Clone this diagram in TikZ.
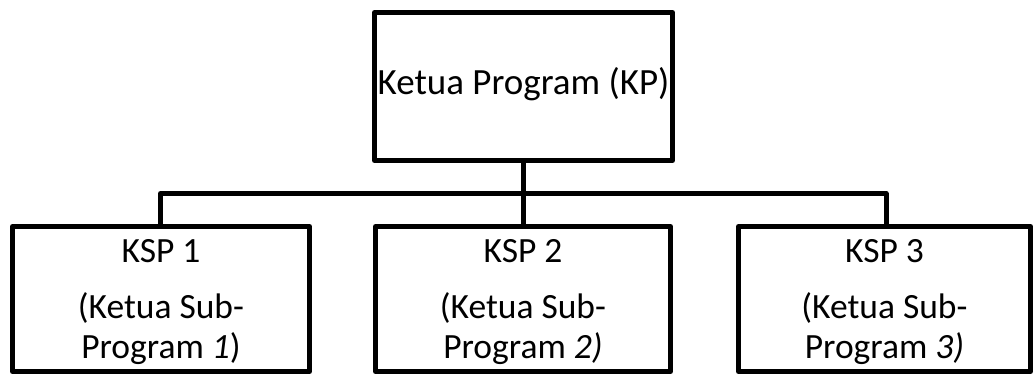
\documentclass[tikz,border=0pt]{standalone}
\usepackage{fontspec}
\setmainfont{Carlito}
\begin{document}
\begin{tikzpicture}[x=1pt,y=-1pt,
  box/.style={draw=black,line width=5pt,line join=round,rectangle},
  conn/.style={draw=black,line width=5pt,line join=round},
  txt/.style={inner sep=0pt,anchor=base,font=\fontsize{35.5}{40}\selectfont},
  toptxt/.style={inner sep=0pt,anchor=base,font=\fontsize{37}{42}\selectfont}]
\useasboundingbox (0,0) rectangle (1035,374);
% boxes
\draw[box] (374.5,12.5) rectangle (672.5,160.5);
\coordinate (kp) at (523.5,160.5);
\draw[box] (12.5,226.5) rectangle (309.5,371.5);
\draw[box] (375.5,226.5) rectangle (670.5,371.5);
\draw[box] (738.5,226.5) rectangle (1030.5,371.5);
\coordinate (k1) at (160.5,226.5);
\coordinate (k2) at (523.5,226.5);
\coordinate (k3) at (886,226.5);
\coordinate (j) at (523.5,193.5);
% texts
\node[toptxt] (tkp) at (523.5,95) {Ketua Program (KP)};
\node[txt] (a1) at (161,262) {KSP 1};
\node[txt] (b1) at (161,318) {(Ketua Sub-};
\node[txt] (c1) at (161,358) {Program \textit{1})};
\node[txt] (a2) at (523,262) {KSP 2};
\node[txt] (b2) at (523,318) {(Ketua Sub-};
\node[txt] (c2) at (523,358) {Program \textit{2)}};
\node[txt] (a3) at (884.5,262) {KSP 3};
\node[txt] (b3) at (884.5,318) {(Ketua Sub-};
\node[txt] (c3) at (884.5,358) {Program \textit{3)}};
% connectors
\draw[conn] (kp) -- (j);
\draw[conn] (k1) -- (k1 |- j) -- (k3 |- j) -- (k3);
\draw[conn] (j) -- (k2);
\end{tikzpicture}
\end{document}
